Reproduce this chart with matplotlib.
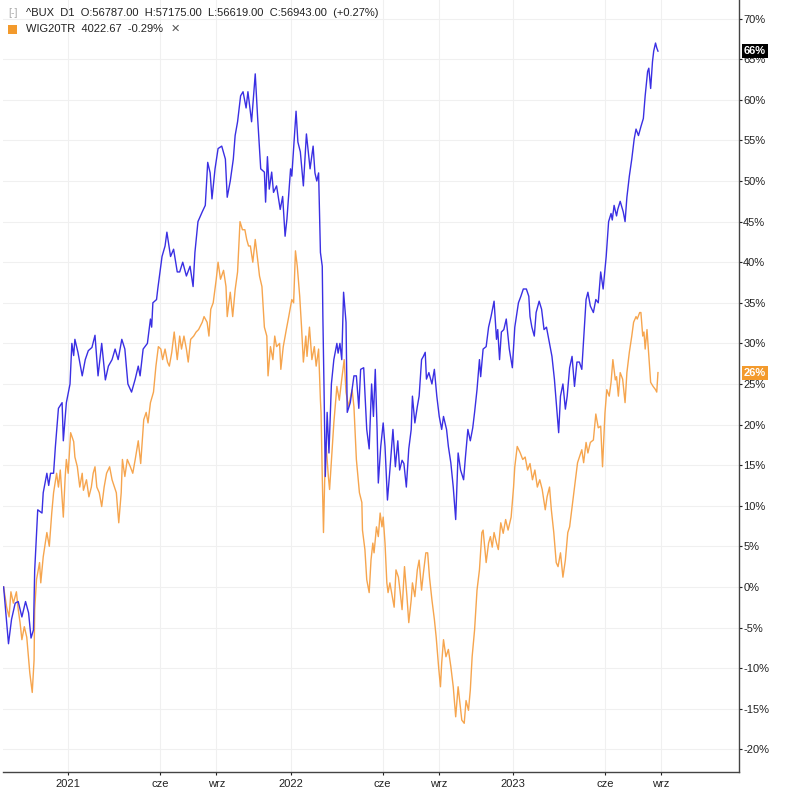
import matplotlib
matplotlib.use("Agg")
import matplotlib.pyplot as plt
import matplotlib.transforms as mtransforms
import pandas as pd

plt.rcParams['font.family'] = ['Liberation Sans', 'DejaVu Sans']

# dni od 2021-01-01 oraz zmiana % dla ^BUX
bux_days = [-106, -98, -93, -87, -82, -76, -70, -65, -61, -57, -55, -50, -43, -41, -35, -32, -29, -24,
            -21, -16, -10, -8, -3, 3, 6, 9, 11, 16, 23, 28, 33, 39, 44, 49, 55, 61, 66, 72, 77, 82, 88,
            93, 98, 104, 110, 115, 118, 123, 130, 135, 137, 139, 145, 147, 154, 159, 162, 168, 173,
            179, 183, 188, 194, 200, 205, 208, 213, 220, 225, 229, 233, 236, 241, 246, 252, 258, 261,
            266, 271, 274, 278, 283, 287, 292, 295, 301, 307, 311, 316, 322, 324, 327, 330, 334, 337,
            342, 348, 352, 356, 359, 365, 367, 374, 377, 381, 386, 391, 397, 402, 405, 408, 411, 414,
            417, 418, 420, 422, 425, 428, 432, 436, 441, 443, 446, 449, 452, 456, 458, 463, 469, 473,
            477, 480, 485, 490, 494, 498, 501, 504, 507, 509, 513, 517, 520, 524, 528, 533, 537, 541,
            544, 548, 551, 555, 559, 563, 565, 569, 573, 576, 580, 583, 586, 588, 592, 597, 601, 605,
            609, 613, 616, 621, 624, 628, 632, 636, 640, 644, 649, 652, 656, 660, 664, 667, 671, 675,
            677, 681, 686, 690, 694, 699, 703, 705, 708, 711, 715, 719, 724, 729, 733, 739, 743, 747,
            752, 756, 758, 761, 765, 768, 773, 777, 781, 785, 790, 794, 798, 801, 805, 808, 812, 816,
            819, 823, 827, 831, 835, 839, 843, 846, 850, 853, 857, 862, 866, 870, 874, 878, 883, 887,
            891, 893, 896, 900, 902, 906, 911, 914, 917, 921, 925, 929, 932, 936, 940, 944, 947, 951,
            953, 956, 959, 961, 964, 966, 968]
bux_pct = [0, -7.0, -4.0, -2.0, -1.8, -3.7, -1.8, -3.2, -6.3, -5.3, 2.0, 9.5, 9.1, 11.6, 14.0, 12.5,
           14.0, 14.0, 17.3, 22.0, 22.7, 18.0, 22.7, 25.0, 30.0, 28.5, 30.5, 28.9, 26.0, 28.0, 29.1,
           29.5, 31.0, 26.0, 30.0, 25.5, 27.2, 28.0, 29.3, 28.0, 30.5, 29.3, 25.0, 24.0, 25.6, 27.2,
           26.0, 29.3, 30.0, 33.0, 32.0, 35.0, 35.4, 36.7, 40.7, 42.0, 43.7, 40.7, 41.6, 38.8, 38.8,
           40.0, 38.3, 39.5, 37.0, 41.2, 45.0, 46.2, 47.0, 52.3, 51.0, 47.8, 51.5, 54.0, 54.3, 52.7,
           48.0, 50.0, 52.7, 55.6, 57.3, 60.5, 61.0, 59.0, 61.0, 57.3, 63.2, 57.7, 51.5, 51.1, 47.4,
           53.0, 49.0, 51.1, 48.6, 49.4, 46.5, 48.1, 43.2, 45.3, 51.5, 50.6, 58.6, 54.8, 53.6, 49.4,
           55.8, 51.5, 54.3, 51.0, 50.0, 51.0, 41.2, 39.5, 33.3, 24.0, 13.6, 21.5, 16.5, 25.0, 28.0,
           30.0, 28.8, 30.0, 28.0, 36.3, 32.6, 21.5, 22.7, 26.0, 26.0, 22.0, 26.8, 27.0, 19.4, 17.0,
           25.0, 21.0, 26.8, 19.4, 12.8, 17.3, 20.2, 17.3, 10.7, 14.4, 19.4, 14.8, 18.0, 14.4, 15.6,
           15.2, 12.3, 17.0, 19.4, 23.5, 20.2, 22.2, 23.5, 28.0, 28.4, 28.9, 25.6, 26.4, 25.0, 26.8,
           23.5, 21.0, 19.4, 21.0, 19.4, 17.3, 15.3, 12.3, 8.3, 16.5, 14.4, 13.2, 16.0, 19.4, 18.0,
           19.6, 21.5, 24.3, 28.0, 25.9, 29.3, 29.6, 32.0, 33.3, 35.2, 30.5, 31.7, 28.0, 31.4, 31.7,
           33.0, 29.3, 27.0, 32.0, 35.0, 35.8, 36.7, 36.7, 35.8, 33.3, 32.0, 30.9, 33.8, 35.2, 34.2,
           31.7, 32.0, 30.0, 28.4, 25.6, 22.7, 19.0, 23.5, 25.0, 21.9, 23.5, 27.0, 28.4, 24.7, 27.7,
           27.7, 26.8, 30.5, 35.4, 36.3, 34.6, 33.8, 35.4, 35.0, 38.8, 36.7, 40.7, 45.0, 46.0, 45.2,
           47.0, 45.7, 46.5, 47.5, 46.2, 45.0, 48.0, 50.6, 52.7, 55.2, 56.4, 55.6, 56.7, 57.7, 60.5,
           63.5, 63.9, 61.4, 64.7, 66.0, 67.0, 66.4, 66.0]

# dni od 2021-01-01 oraz zmiana % dla WIG20TR
wig_days = [-106, -101, -97, -94, -90, -85, -82, -79, -76, -72, -68, -63, -59, -56, -55, -52, -47,
            -45, -41, -35, -31, -27, -24, -19, -16, -13, -8, -5, -3, 0, 4, 9, 11, 15, 19, 23, 25,
            30, 34, 38, 41, 44, 47, 51, 55, 59, 63, 68, 72, 76, 79, 83, 87, 89, 93, 97, 102, 106,
            110, 115, 119, 124, 128, 131, 135, 140, 144, 148, 152, 155, 159, 163, 166, 170, 174,
            179, 183, 186, 190, 194, 197, 201, 206, 210, 214, 220, 223, 228, 231, 234, 238, 243,
            246, 250, 255, 259, 261, 266, 270, 274, 278, 282, 286, 290, 293, 296, 299, 303, 307,
            311, 314, 318, 322, 326, 328, 332, 336, 339, 342, 347, 349, 353, 358, 362, 367, 370,
            373, 376, 380, 383, 386, 390, 392, 396, 400, 404, 407, 411, 414, 415, 417, 419, 421,
            423, 427, 429, 432, 436, 441, 445, 449, 453, 456, 460, 466, 469, 473, 478, 482, 483,
            487, 490, 494, 497, 500, 502, 506, 509, 512, 515, 517, 520, 523, 525, 528, 532, 535,
            538, 542, 545, 548, 552, 556, 559, 563, 565, 569, 573, 576, 580, 583, 587, 590, 593,
            597, 601, 604, 608, 611, 613, 616, 620, 624, 628, 632, 636, 640, 643, 646, 650, 653,
            657, 660, 663, 667, 671, 675, 679, 681, 686, 690, 693, 696, 699, 703, 706, 710, 714,
            718, 722, 727, 731, 733, 737, 742, 746, 750, 754, 758, 762, 766, 770, 774, 778, 783,
            786, 790, 793, 797, 801, 804, 808, 812, 816, 820, 823, 828, 832, 836, 839, 843, 846,
            850, 853, 857, 862, 866, 870, 874, 877, 881, 884, 888, 891, 894, 898, 900, 903, 906,
            910, 914, 917, 921, 925, 928, 932, 934, 938, 940, 943, 945, 947, 950, 953, 956, 960,
            964, 966, 968]
wig_pct = [0, -2.5, -3.7, -0.6, -2.0, -0.6, -2.8, -4.4, -6.5, -4.9, -6.2, -10.6, -13.0, -9.0, -2.8,
           0.9, 3.0, 0.5, 3.7, 6.7, 5.0, 9.1, 11.6, 14.0, 12.3, 14.4, 8.6, 13.5, 15.7, 14.0, 19.0,
           17.9, 16.0, 14.8, 12.3, 14.0, 11.9, 13.2, 11.1, 12.3, 14.0, 14.8, 12.3, 11.6, 9.9, 12.3,
           14.0, 14.8, 13.2, 12.3, 11.6, 7.9, 11.6, 15.7, 13.6, 15.7, 14.8, 14.0, 15.7, 18.0, 15.2,
           20.6, 21.5, 20.2, 22.7, 24.0, 27.2, 29.6, 29.3, 28.0, 29.3, 27.7, 27.2, 28.9, 31.4, 28.0,
           30.9, 29.3, 30.9, 29.3, 27.7, 30.5, 30.9, 31.4, 31.7, 32.6, 33.3, 32.6, 30.9, 34.2, 35.0,
           37.9, 40.0, 37.9, 39.0, 37.0, 33.3, 36.3, 33.3, 36.6, 38.8, 45.0, 44.0, 44.0, 42.8, 42.0,
           42.0, 40.0, 42.8, 40.3, 38.3, 37.0, 32.0, 30.9, 26.0, 29.6, 28.0, 30.9, 29.6, 30.0, 26.8,
           29.6, 31.7, 33.3, 35.4, 35.0, 41.4, 39.5, 35.8, 32.0, 27.7, 30.9, 28.4, 32.0, 28.0, 29.6,
           27.2, 29.3, 23.0, 21.5, 13.6, 6.7, 13.2, 17.8, 13.6, 12.0, 15.6, 20.2, 24.7, 23.0, 25.6,
           28.0, 24.0, 22.2, 24.3, 22.2, 15.7, 11.6, 10.4, 7.0, 4.6, 0.9, -0.7, 3.3, 5.4, 4.2, 7.4,
           6.2, 9.1, 7.4, 8.6, 5.4, 0.5, -0.7, 0.5, -1.2, -2.5, 2.1, 1.2, -0.7, -2.8, 2.5, -1.2,
           -4.4, -1.6, 0.5, -1.2, 2.1, 3.3, -0.4, 1.7, 4.2, 4.2, 1.2, -1.6, -4.0, -6.2, -9.9, -12.3,
           -9.4, -6.5, -8.6, -7.7, -9.8, -12.3, -16.0, -12.3, -14.3, -16.4, -16.8, -14.0, -15.2,
           -12.7, -8.6, -5.3, -0.4, 2.1, 6.7, 7.0, 3.0, 5.4, 6.2, 4.9, 6.7, 5.4, 4.6, 7.9, 6.6, 8.3,
           7.0, 8.6, 12.3, 14.8, 17.3, 16.5, 15.7, 16.0, 14.4, 15.2, 13.2, 14.4, 12.3, 13.2, 12.0,
           9.5, 11.1, 12.3, 9.5, 6.7, 3.0, 2.5, 4.2, 1.2, 3.3, 6.7, 7.4, 10.4, 12.8, 15.3, 16.0,
           16.9, 15.3, 17.8, 16.5, 17.8, 18.1, 21.3, 19.6, 19.8, 14.8, 21.4, 24.3, 23.5, 25.2, 28.0,
           25.5, 25.9, 23.5, 26.4, 25.6, 22.7, 26.4, 28.9, 30.9, 32.6, 33.3, 33.0, 33.8, 33.8, 30.9,
           31.4, 29.3, 31.7, 28.4, 25.2, 24.7, 24.3, 24.0, 26.4]

x_ticks = ['2021-01-01', '2021-06-01', '2021-09-01', '2022-01-01', '2022-06-01',
           '2022-09-01', '2023-01-01', '2023-06-01', '2023-09-01']
x_labels = ['2021', 'cze', 'wrz', '2022', 'cze', 'wrz', '2023', 'cze', 'wrz']

base = pd.Timestamp('2021-01-01')
bux_dates = base + pd.to_timedelta(bux_days, unit='D')
wig_dates = base + pd.to_timedelta(wig_days, unit='D')

blue = '#3a2fe3'
orange = '#f6a54e'

fig = plt.figure(figsize=(8, 7.93), dpi=100)
ax = fig.add_axes([3 / 800, 1 - 772 / 793, 736 / 800, 772 / 793])

ax.plot(wig_dates, wig_pct, color=orange, lw=1.0)
ax.plot(bux_dates, bux_pct, color=blue, lw=1.0)

ax.set_xlim(base + pd.Timedelta(days=-107), base + pd.Timedelta(days=1101))
ax.set_ylim(-22.8, 72.3)

# osie
for s in ['left', 'top']:
    ax.spines[s].set_visible(False)
for s in ['right', 'bottom']:
    ax.spines[s].set_color('#444444')
    ax.spines[s].set_linewidth(1.0)
ax.yaxis.tick_right()
yt = list(range(-20, 75, 5))
ax.set_yticks(yt)
ax.set_yticklabels([f'{v}%' for v in yt])
ax.set_xticks([pd.Timestamp(d) for d in x_ticks])
ax.set_xticklabels(x_labels)
ax.tick_params(axis='both', labelsize=8, colors='#222222', length=2, width=0.8, pad=1)
ax.tick_params(axis='x', pad=3)
ax.grid(True, color='#f0f0f0', lw=0.8)
ax.set_axisbelow(True)

# etykiety ostatnich wartości
tr = mtransforms.blended_transform_factory(ax.transAxes, ax.transData)
ax.text(1 + 5 / 736, bux_pct[-1], f'{bux_pct[-1]:.0f}%', transform=tr, fontsize=8, color='white',
        fontweight='bold', va='center', ha='left',
        bbox=dict(boxstyle='square,pad=0.18', fc='black', ec='none'))
ax.text(1 + 5 / 736, wig_pct[-1], f'{wig_pct[-1]:.0f}%', transform=tr, fontsize=8, color='white',
        fontweight='bold', va='center', ha='left',
        bbox=dict(boxstyle='square,pad=0.18', fc='#f39a2c', ec='none'))

# legenda
fig.text(8 / 800, 1 - 13 / 793, '[-]', fontsize=7.5, color='#aaaaaa', va='center')
fig.text(26 / 800, 1 - 13 / 793, '^BUX  D1  O:56787.00  H:57175.00  L:56619.00  C:56943.00  (+0.27%)',
         fontsize=8, color='#222222', va='center')
fig.patches.append(plt.Rectangle((8 / 800, 1 - 34 / 793), 9 / 800, 9 / 793, fc='#f39a2c', ec='none',
                                 transform=fig.transFigure, figure=fig))
fig.text(26 / 800, 1 - 29 / 793, 'WIG20TR  4022.67  -0.29%', fontsize=8, color='#222222', va='center')
fig.text(171 / 800, 1 - 29 / 793, '✕', fontsize=8, color='#555555', va='center')

fig.savefig('out.png', dpi=100)
